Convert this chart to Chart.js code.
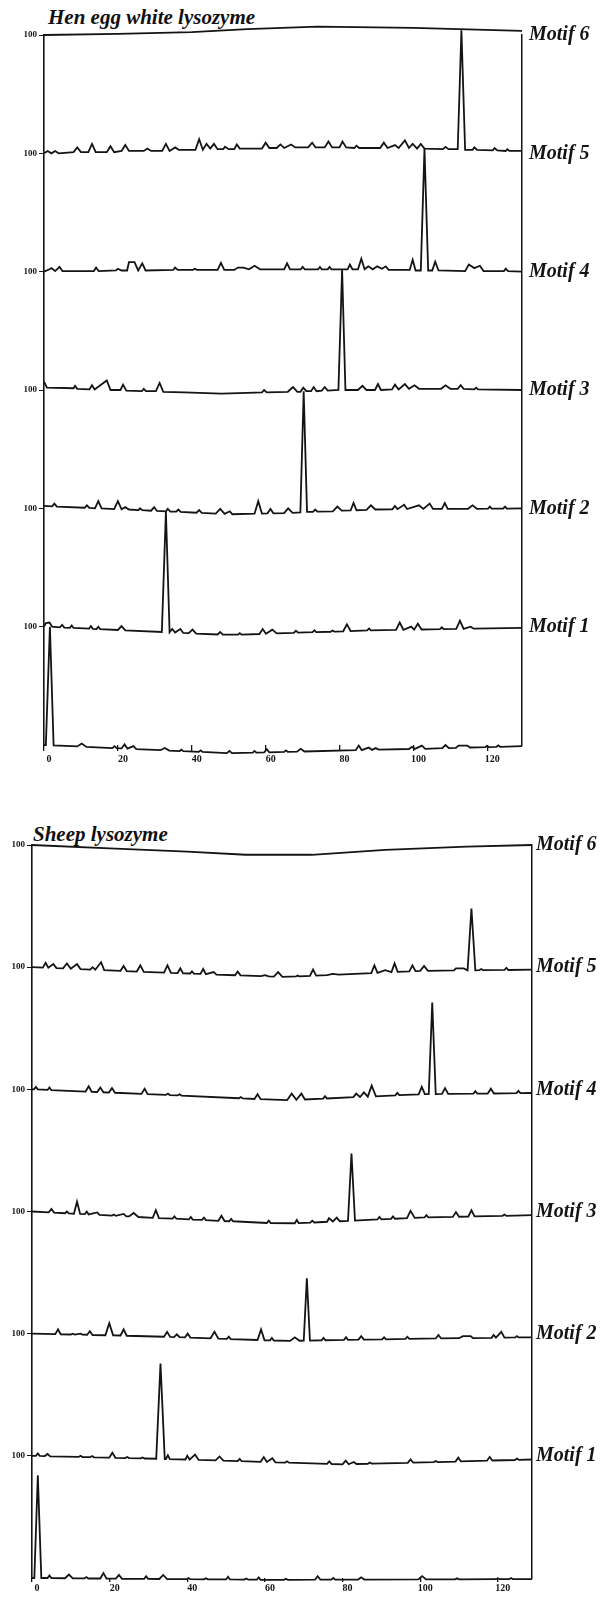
<!DOCTYPE html>
<html lang="en">
<head>
  <meta charset="UTF-8" />
  <title>Motif profiles – hen egg white and sheep lysozyme</title>
  <script src="https://cdn.jsdelivr.net/npm/chart.js"></script>
  <style>
    body { margin: 0; background: #fff; width: 604px; height: 1607px; position: relative; overflow: hidden; }
    .panel { position: absolute; left: 0; }
    .title {
      position: absolute;
      font-family: 'Liberation Serif', serif;
      font-weight: bold; font-style: italic;
      font-size: 21px; line-height: 21px;
      color: #111; white-space: nowrap;
    }
  </style>
</head>
<body>
  <div class="title" style="left:48px;top:7px">Hen egg white lysozyme</div>
  <canvas id="hen" class="panel" style="top:0" width="604" height="800"></canvas>
  <div class="title" style="left:33px;top:824px">Sheep lysozyme</div>
  <canvas id="sheep" class="panel" style="top:800px" width="604" height="807"></canvas>

  <script>
    // x ticks (residue number) and strip labels
    const xTickValues = [0, 20, 40, 60, 80, 100, 120];
    const stripLevels = [1, 2, 3, 4, 5, 6];
    const stripLabel = '100';
    const motifLabels = ['Motif 1', 'Motif 2', 'Motif 3', 'Motif 4', 'Motif 5', 'Motif 6'];

    // Hen egg white lysozyme: one trace per strip, [residue, value] with 1 = 100
    const henTrace0 = [[0,0],[0.5,0],[1.6,1.0],[2.6,-0.003],[9,-0.012],[10.2,0.012],[11.5,-0.016],
      [18.5,-0.026],[19.1,-0.01],[19.7,-0.027],[21,-0.029],[21.8,0.005],[22.6,-0.031],[24.2,-0.01],[25,-0.035],
      [31.5,-0.044],[32.7,-0.025],[33.9,-0.047],[36.7,-0.051],[37.2,-0.04],[37.7,-0.052],
      [41.9,-0.058],[42.4,-0.045],[42.9,-0.059],[49.5,-0.069],[50.2,-0.05],[50.9,-0.069],
      [56.5,-0.065],[57,-0.05],[57.5,-0.065],[59.6,-0.063],[60.3,-0.035],[61,-0.062],
      [65,-0.059],[65.5,-0.045],[66,-0.058],[68.5,-0.056],[69.5,-0.032],[70.5,-0.055],
      [84.4,-0.044],[85.2,-0.005],[86,-0.043],[87.9,-0.022],[88.8,-0.041],[89.8,-0.026],[90.6,-0.039],
      [98.8,-0.034],[99.6,-0.015],[100.4,-0.033],[102.3,-0.005],[103.2,-0.032],
      [107.8,-0.027],[108.7,0.0],[109.6,-0.026],[111.5,-0.024],[112.2,-0.005],[114.6,-0.005],[115.3,-0.021],
      [119.5,-0.018],[119.9,-0.008],[120.3,-0.018],[122.5,-0.015],[123,-0.003],[123.5,-0.015],[129.4,-0.01]];
    const henTrace1 = [[0,0],[0.5,0.03],[1.5,0.035],[2.2,0],[4.3,-0.006],[4.9,0.015],[5.5,-0.008],
      [7,-0.01],[7.5,0.01],[8,-0.011],[12.2,-0.017],[12.7,0.005],[13.2,-0.018],[14.2,-0.02],[14.7,0],[15.2,-0.021],
      [20,-0.028],[21,0.005],[22,-0.031],[31.9,-0.045],[33,0.974],[34,-0.047],
      [34.7,-0.02],[35.5,-0.05],[36.9,-0.02],[37.7,-0.053],[39.2,-0.055],[40.2,-0.025],[41.2,-0.058],
      [47,-0.066],[47.7,-0.045],[48.4,-0.068],[52.5,-0.068],[53,-0.055],[53.5,-0.067],
      [58.3,-0.062],[59.2,-0.02],[60.1,-0.06],[61.8,-0.025],[63,-0.057],
      [67.6,-0.052],[68.2,-0.035],[68.8,-0.051],[72.7,-0.047],[73.2,-0.03],[73.7,-0.046],
      [77.6,-0.043],[78.1,-0.033],[78.6,-0.042],[81,-0.039],[82,0.02],[83,-0.037],
      [87.5,-0.032],[88,-0.015],[88.5,-0.031],
      [95.3,-0.027],[96.3,0.035],[97.3,-0.026],[99.4,0],[100.2,-0.025],[101.2,0.025],[102.2,-0.024],
      [107.2,-0.021],[107.7,-0.005],[108.2,-0.021],[111.6,-0.019],[112.6,0.05],[113.6,-0.018],[115.5,0],[116.3,-0.017],[129.4,-0.01]];
    const henTrace2 = [[0,0.02],[2.2,0.017],[2.8,0.04],[3.5,0.015],[11,0.005],[11.6,0.025],[12.3,0.003],
      [13.8,0],[14.7,0.06],[15.6,0],[19,-0.006],[20,0.06],[21,-0.008],[22,0.01],[23,-0.01],
      [25.6,-0.015],[26,0],[26.6,-0.015],[29,-0.02],[29.8,0.01],[30.6,-0.022],
      [33,-0.025],[33.5,-0.005],[34.2,-0.027],[35.8,-0.027],[36.4,-0.01],[37,-0.03],
      [41.3,-0.037],[42,-0.015],[42.7,-0.038],[46.5,-0.045],[47.7,-0.005],[48.9,-0.047],[50.3,-0.025],[51,-0.05],
      [57,-0.045],[58,0.06],[59,-0.044],[60.5,-0.042],[61.3,-0.005],[62.1,-0.042],
      [65,-0.04],[66.1,0],[67.3,-0.038],[69.4,-0.035],[70.3,0.99],[71.2,-0.03],
      [72.8,-0.03],[73.4,-0.01],[74,-0.028],[78.2,-0.025],[79.4,0.015],[80.6,-0.02],
      [83,-0.018],[83.8,0.045],[84.6,-0.016],[87.3,-0.013],[88.5,0.025],[89.7,-0.01],
      [94.3,-0.008],[95,0.02],[95.7,-0.007],[97.5,0.03],[98.3,-0.006],[101.5,0.025],[102.7,-0.005],[104.4,0.04],[105.3,-0.005],
      [107.7,-0.005],[108.5,0.045],[109.3,-0.005],[114.8,-0.004],[116,0.025],[117.2,-0.004],
      [120.2,-0.003],[120.7,0.015],[121.2,-0.003],[124.3,-0.002],[124.8,0.015],[125.3,-0.002],[129.4,0]];
    const henTrace3 = [[0,0.07],[0.8,0.02],[8,0.015],[8.4,0.035],[9,0.01],
      [12.3,0.005],[13,0.04],[13.7,0.005],[17,0.08],[18,0],[20.7,0],[21.4,0.045],[22.3,-0.005],
      [26.5,-0.01],[27,0.01],[27.6,-0.01],[30.3,-0.01],[31.3,0.06],[32.3,-0.015],
      [38,-0.02],[42,-0.025],[48,-0.03],[55,-0.025],[59,-0.02],[59.6,0],[60.3,-0.02],
      [66,-0.015],[67.4,0.025],[68.6,-0.015],[69.4,-0.015],[70.2,0.02],[71,-0.01],
      [72.3,-0.01],[73,0.025],[73.8,-0.01],[75.2,-0.005],[76,0.025],[76.8,-0.005],
      [79.7,0],[80.7,1.015],[81.6,0],[85,0],[86.2,0.035],[87.3,0],[89.6,0],[90.4,0.05],[91.2,0],
      [94.2,0.005],[95,0.045],[96,0.005],[97.7,0.05],[98.8,0.01],[100.3,0.04],[101.5,0.01],
      [107.5,0.01],[108.7,0.04],[110,0.01],[112,0.01],[112.8,0.04],[113.6,0.01],
      [116.5,0.005],[117,0.02],[117.5,0.005],[129.4,0]];
    const henTrace4 = [[0,0],[1.5,0.02],[2,0.03],[3,0.005],[4.2,0.04],[5,0.005],[6,0.005],
      [13.5,0.005],[14.1,0.035],[14.8,0.005],[19.5,0.01],[20,0.025],[21,0.01],
      [22.5,0.01],[23,0.08],[24.5,0.08],[25.5,0.01],[26.6,0.07],[27.5,0.01],
      [35,0.015],[35.5,0.035],[36.2,0.015],[40.3,0.015],[40.8,0.025],[41.4,0.015],
      [47,0.015],[47.9,0.075],[48.8,0.015],[51.5,0.015],[52.5,0.035],[54,0.035],[55.5,0.02],[57,0.05],[58.5,0.02],
      [65,0.02],[65.8,0.07],[66.6,0.02],[69.5,0.02],[70,0.04],[70.6,0.02],
      [74.2,0.02],[74.7,0.04],[75.2,0.02],[76.8,0.02],[77.3,0.04],[77.8,0.02],
      [82.2,0.02],[82.8,0.06],[83.5,0.02],[85,0.02],[85.9,0.11],[86.8,0.02],[87.8,0.045],[89,0.02],
      [90.2,0.045],[91.5,0.025],[92.5,0.045],[93.3,0.015],[99,0.015],[99.8,0.1],[100.6,0.01],
      [102,0.01],[103,1.04],[104,0.01],[105.1,0.01],[105.9,0.085],[106.8,0.01],
      [114,0.005],[115,0.06],[116.5,0.03],[118,0.05],[119,0.005],[124.5,0.005],[125,0.025],[125.6,0.005],[129.4,0]];
    const henTrace5 = [[0,0],[1,0.02],[2,0],[3,0.02],[4,0],[8,0.01],[9,0.05],[10,0.01],
      [12,0.01],[13,0.08],[14,0.01],[17,0.01],[18,0.06],[19,0.01],[21,0.02],[22,0.07],[23,0.02],
      [27,0.02],[28,0.04],[29,0.02],[32,0.02],[33,0.08],[34,0.02],[35.5,0.05],[36.5,0.03],
      [41,0.03],[42,0.12],[43,0.03],[44,0.08],[45,0.04],[46,0.08],[47,0.035],
      [48.5,0.035],[49,0.055],[50,0.035],[51.5,0.035],[52.2,0.075],[53,0.04],
      [59,0.04],[60,0.09],[61,0.045],[63,0.045],[64,0.075],[65,0.045],[66.9,0.075],[68,0.05],
      [71.5,0.05],[72.6,0.09],[73.5,0.05],[76,0.05],[77,0.1],[78,0.05],[80,0.05],[80.8,0.1],[81.8,0.05],
      [84,0.045],[84.6,0.065],[85.3,0.045],[91,0.045],[92,0.09],[93,0.045],[95,0.07],[96,0.045],
      [97.7,0.11],[98.8,0.045],[99.8,0.08],[101,0.04],[102,0.08],[103,0.04],
      [108,0.035],[108.7,0.055],[109.5,0.035],[111.8,0.035],[112,0.035],[113,1.04],[114,0.03],
      [116,0.03],[116.5,0.05],[117.2,0.03],[121.5,0.025],[122,0.045],[122.7,0.025],
      [125,0.02],[125.4,0.035],[126,0.02],[129.4,0.02]];
    const henTopLine = [[0,0],[20,0.01],[40,0.025],[55,0.05],[74,0.07],[100,0.06],[129.4,0.035]];

    // Sheep lysozyme
    const sheepTrace0 = [[0,0],[0.6,0],[1.5,0.84],[2.4,0],[4,0],[4.5,0.02],[5,0],
      [8.5,-0.002],[9.5,0.028],[10.5,-0.003],[13.5,-0.003],[14,0.008],[14.5,-0.004],
      [17.6,-0.004],[18.4,0.04],[19.2,-0.005],[21.6,-0.005],[22.4,0.025],[23.2,-0.006],
      [28.9,-0.007],[29.4,0.015],[29.9,-0.007],[32.8,-0.008],[33.8,0.025],[34.8,-0.009],
      [39.8,-0.01],[40.3,0],[40.8,-0.01],[44.3,-0.011],[44.8,-0.002],[45.3,-0.011],
      [50,-0.012],[50.5,0.01],[51,-0.012],[54.7,-0.013],[55.2,-0.004],[55.7,-0.014],
      [57.9,-0.014],[58.4,0.005],[58.9,-0.015],[64.9,-0.015],[65.4,-0.006],[65.9,-0.015],
      [72.9,-0.014],[73.6,0.015],[74.3,-0.014],[77.1,-0.014],[77.6,0],[78.1,-0.014],
      [84,-0.013],[84.8,0.005],[85.6,-0.013],[99.5,-0.012],[100.5,0.015],[101.5,-0.012],
      [109,-0.011],[109.5,-0.003],[110,-0.011],[119.5,-0.01],[120,-0.002],[120.5,-0.01],
      [122.9,-0.01],[123.4,0],[123.9,-0.01],[128.8,-0.01]];
    const sheepTrace1 = [[0,0],[1,0],[1.5,0.02],[2,0],[3.3,-0.002],[4,0.015],[4.7,-0.004],
      [12,-0.009],[12.5,0],[13,-0.01],[15,-0.011],[15.5,-0.002],[16,-0.012],
      [19.9,-0.015],[20.7,0.025],[21.5,-0.016],[24,-0.018],[24.5,-0.01],[25,-0.019],[28,-0.021],[28.5,-0.013],[29,-0.022],
      [32,-0.024],[33.1,0.755],[34.2,-0.026],[34.5,-0.026],[35,0.005],[35.5,-0.027],
      [39.5,-0.03],[40,0],[40.6,-0.031],[42,0.01],[42.9,-0.033],[47.3,-0.037],[48.3,-0.005],[49.3,-0.039],
      [53,-0.043],[53.5,-0.025],[54,-0.044],[58.9,-0.049],[59.7,-0.01],[60.5,-0.051],[61.9,-0.02],[62.7,-0.053],
      [65.2,-0.055],[65.7,-0.045],[66.2,-0.056],[76,-0.066],[76.6,-0.045],[77.2,-0.067],
      [80,-0.07],[80.8,-0.04],[81.6,-0.069],[82.9,-0.05],[83.6,-0.067],[86.5,-0.065],[87,-0.055],[87.5,-0.064],
      [96.8,-0.057],[97.5,-0.03],[98.2,-0.055],[103.5,-0.051],[104,-0.042],[104.5,-0.051],
      [109.1,-0.047],[109.8,-0.015],[110.5,-0.046],[117.2,-0.04],[117.9,-0.01],[118.6,-0.038],
      [124.4,-0.034],[124.9,-0.022],[125.4,-0.033],[128.8,-0.03]];
    const sheepTrace2 = [[0,0],[6,-0.004],[6.7,0.035],[7.4,-0.005],[10,-0.007],[10.5,0],[11,-0.007],[12.5,0],[13,-0.008],
      [14.2,-0.009],[14.9,0.02],[15.6,-0.011],[18.9,-0.013],[19.9,0.085],[20.9,-0.014],
      [22.8,-0.015],[23.6,0.035],[24.4,-0.017],[34,-0.025],[34.8,0.015],[35.6,-0.027],
      [36.6,-0.028],[37.3,-0.005],[38,-0.029],[39.4,-0.03],[40.1,0],[40.8,-0.032],
      [46,-0.038],[47,0.015],[48,-0.04],[50.2,-0.043],[50.7,-0.025],[51.2,-0.044],
      [58.1,-0.052],[59,0.035],[59.9,-0.054],[61.3,-0.055],[61.8,-0.035],[62.3,-0.056],
      [66.5,-0.059],[67.7,-0.03],[68.9,-0.058],[70,-0.057],[70.8,0.453],[71.6,-0.057],
      [74.6,-0.054],[75.1,-0.035],[75.6,-0.054],[80.4,-0.051],[80.9,-0.03],[81.4,-0.051],
      [84.1,-0.049],[84.8,-0.02],[85.5,-0.049],[90.2,-0.046],[90.7,-0.03],[91.2,-0.046],
      [96.2,-0.042],[96.7,-0.025],[97.2,-0.042],[104,-0.039],[104.7,-0.01],[105.4,-0.039],
      [110,-0.037],[111,-0.02],[113,-0.02],[113.6,-0.036],[118.4,-0.034],[118.9,-0.01],[119.5,-0.033],
      [120.9,0.015],[121.7,-0.033],[124.5,-0.031],[124.9,-0.02],[125.3,-0.031],[128.8,-0.03]];
    const sheepTrace3 = [[0,0],[4.3,-0.007],[5,0.02],[5.7,-0.009],[8.5,-0.014],[9,0],[9.5,-0.015],
      [10.8,-0.018],[11.6,0.08],[12.4,-0.02],[13.6,-0.022],[14.1,0],[14.6,-0.024],[16.8,-0.008],[17.4,-0.028],
      [20.6,-0.034],[21.1,-0.025],[21.6,-0.036],[23.6,-0.02],[24.3,-0.04],[25,-0.04],[26.2,-0.012],[27.4,-0.045],
      [31.1,-0.052],[31.9,0.01],[32.7,-0.054],[36.2,-0.058],[36.7,-0.04],[37.2,-0.059],
      [40.4,-0.065],[40.9,-0.045],[41.4,-0.066],[43.8,-0.069],[44.3,-0.05],[44.8,-0.07],
      [48,-0.076],[48.8,-0.035],[49.6,-0.078],[50.8,-0.08],[51.3,-0.06],[51.8,-0.08],
      [60.5,-0.094],[61,-0.075],[61.5,-0.094],[67.7,-0.096],[68.2,-0.07],[68.7,-0.095],
      [71.7,-0.091],[72.2,-0.075],[72.7,-0.09],[76,-0.084],[76.5,-0.055],[77.5,-0.082],[78.5,-0.05],[79.3,-0.08],
      [81.4,-0.077],[82.3,0.475],[83.2,-0.075],[89,-0.065],[89.5,-0.045],[90,-0.064],
      [92.5,-0.06],[93,-0.04],[93.5,-0.059],[96.6,-0.055],[97.5,0.005],[98.6,-0.052],
      [101.1,-0.049],[101.6,-0.03],[102.1,-0.048],[108.4,-0.044],[109.2,-0.005],[110,-0.043],
      [112.4,-0.041],[113.2,0.01],[114,-0.04],[121.2,-0.035],[121.7,-0.025],[122.2,-0.035],[128.8,-0.03]];
    const sheepTrace4 = [[0,0],[0.5,0],[1,0.02],[1.5,0],[4,-0.005],[4.5,0.015],[5,-0.007],
      [13.8,-0.018],[14.6,0.025],[15.4,-0.02],[16.8,-0.022],[17.6,0.015],[18.4,-0.024],[19.8,-0.026],[20.6,0.01],[21.4,-0.028],[23,-0.03],
      [28.2,-0.037],[29,0.005],[29.8,-0.039],[34.5,-0.046],[35,-0.035],[35.5,-0.047],
      [37.5,-0.05],[38,-0.04],[38.5,-0.051],[53.3,-0.073],[53.8,-0.063],[54.3,-0.074],
      [57.3,-0.079],[58.1,-0.04],[58.9,-0.081],[65.7,-0.089],[66.9,-0.035],[68.1,-0.086],[69.4,-0.035],[70.3,-0.083],
      [75,-0.076],[75.5,-0.056],[76,-0.075],[82.8,-0.064],[83.5,-0.035],[84.5,-0.063],[85.5,-0.025],[86.5,-0.06],[87.5,0.03],[88.6,-0.058],
      [93.6,-0.049],[94.1,-0.03],[94.6,-0.048],[99.6,-0.041],[100.4,0.02],[101.2,-0.04],
      [102.2,-0.04],[103.1,0.71],[104,-0.039],[105.6,-0.038],[106.4,0.01],[107.2,-0.037],
      [113.7,-0.035],[114.2,-0.015],[114.7,-0.035],[117.4,-0.034],[118.2,0.005],[119,-0.034],
      [124.8,-0.031],[125.3,-0.013],[125.8,-0.031],[128.8,-0.03]];
    const sheepTrace5 = [[0,0],[2.8,-0.004],[3.5,0.035],[4.2,-0.005],[5.5,0.025],[6.3,-0.008],
      [8,-0.01],[9,0.03],[10,-0.013],[11.6,0.025],[12.5,-0.016],[15,-0.02],[15.6,0],[16.3,-0.021],[17.8,0.04],[18.6,-0.024],
      [22.8,-0.03],[23.6,0.01],[24.4,-0.032],[27,-0.036],[27.9,0.015],[28.8,-0.038],
      [34,-0.045],[34.9,0.015],[35.8,-0.047],[37.5,-0.048],[38.2,-0.01],[38.9,-0.05],
      [40.7,-0.052],[41.2,-0.035],[41.7,-0.053],[43.4,-0.055],[44.1,-0.015],[44.8,-0.057],[46.8,-0.04],[47.5,-0.061],
      [52.3,-0.066],[53,-0.035],[53.7,-0.067],[59,-0.073],[60,-0.065],[61,-0.075],
      [62.3,-0.077],[63.4,-0.04],[64.5,-0.079],[68,-0.076],[68.4,-0.068],[68.8,-0.075],
      [71.6,-0.071],[72.4,-0.02],[73.2,-0.069],[76,-0.065],[77.5,-0.055],[79,-0.061],
      [87.4,-0.048],[88.2,0.015],[89,-0.046],[91,-0.025],[92.6,-0.041],[93.4,0.03],[94.2,-0.039],
      [97.2,-0.034],[98,0.015],[98.8,-0.032],[100,-0.03],[101,0.01],[102,-0.03],
      [108.7,-0.027],[109.2,-0.01],[111.2,-0.01],[112.2,-0.026],[113.2,0.48],[114.2,-0.026],
      [115.2,-0.025],[115.7,-0.015],[116.2,-0.025],[121.7,-0.023],[122.2,-0.005],[122.7,-0.023],[128.8,-0.02]];
    const sheepTopLine = [[0,0],[20,-0.027],[40,-0.055],[55,-0.08],[72,-0.08],[91,-0.04],[112,-0.014],[128.8,0]];

    const ink = '#141414';
    const serif = "'Liberation Serif', 'DejaVu Serif', serif";

    function toDataset(points, offset) {
      return {
        data: points.map(([x, y]) => ({ x, y: y + offset })),
        borderColor: ink, borderWidth: 1.8, pointRadius: 0,
        tension: 0, fill: false, clip: false
      };
    }

    function makePanel(id, traces, topLine, g) {
      const datasets = traces.map((t, i) => toDataset(t, i));
      datasets.push(toDataset(topLine, 6));
      return new Chart(document.getElementById(id), {
        type: 'line',
        data: { datasets },
        options: {
          responsive: false, animation: false, devicePixelRatio: 1,
          layout: { padding: { top: g.top, left: 0, right: 0, bottom: 0 } },
          plugins: { legend: { display: false }, tooltip: { enabled: false }, title: { display: false } },
          scales: {
            x: {
              type: 'linear', min: 0, max: g.xMax,
              afterBuildTicks: s => { s.ticks = xTickValues.map(v => ({ value: v })); },
              afterFit: s => { s.height = g.xHeight; },
              ticks: { color: ink, font: { family: serif, size: 10, weight: 'bold' },
                       padding: g.xPad, labelOffset: 5, maxRotation: 0, autoSkip: false },
              grid: { drawOnChartArea: false, tickLength: g.xTick, color: ink, lineWidth: 1.3 },
              border: { display: false }
            },
            y: {
              min: 0, max: 6,
              afterBuildTicks: s => { s.ticks = stripLevels.map(v => ({ value: v })); },
              afterFit: s => { s.width = g.left; },
              ticks: { color: ink, font: { family: serif, size: 9, weight: 'bold' },
                       padding: 2, callback: () => stripLabel },
              grid: { drawOnChartArea: false, tickLength: 5, color: ink, lineWidth: 1 },
              border: { display: true, color: ink, width: 1.6 }
            },
            yR: {
              position: 'right', min: 0, max: 6,
              afterBuildTicks: s => { s.ticks = stripLevels.map(v => ({ value: v })); },
              afterFit: s => { s.width = 604 - g.right; },
              ticks: { color: ink, font: { family: serif, size: 20, weight: 'bold', style: 'italic' },
                       padding: g.rPad, autoSkip: false, callback: v => motifLabels[v - 1] },
              grid: { display: true, drawOnChartArea: false, drawTicks: false },
              border: { display: true, color: ink, width: 1.5 }
            }
          }
        }
      });
    }

    makePanel('hen', [henTrace0, henTrace1, henTrace2, henTrace3, henTrace4, henTrace5], henTopLine,
      { top: 35, left: 44, right: 522, xHeight: 55, xMax: 129.4, xTick: 6, xPad: 2, rPad: 7 });
    makePanel('sheep', [sheepTrace0, sheepTrace1, sheepTrace2, sheepTrace3, sheepTrace4, sheepTrace5], sheepTopLine,
      { top: 45, left: 32, right: 532, xHeight: 29, xMax: 128.8, xTick: 4, xPad: 0, rPad: 4 });
  </script>
</body>
</html>
